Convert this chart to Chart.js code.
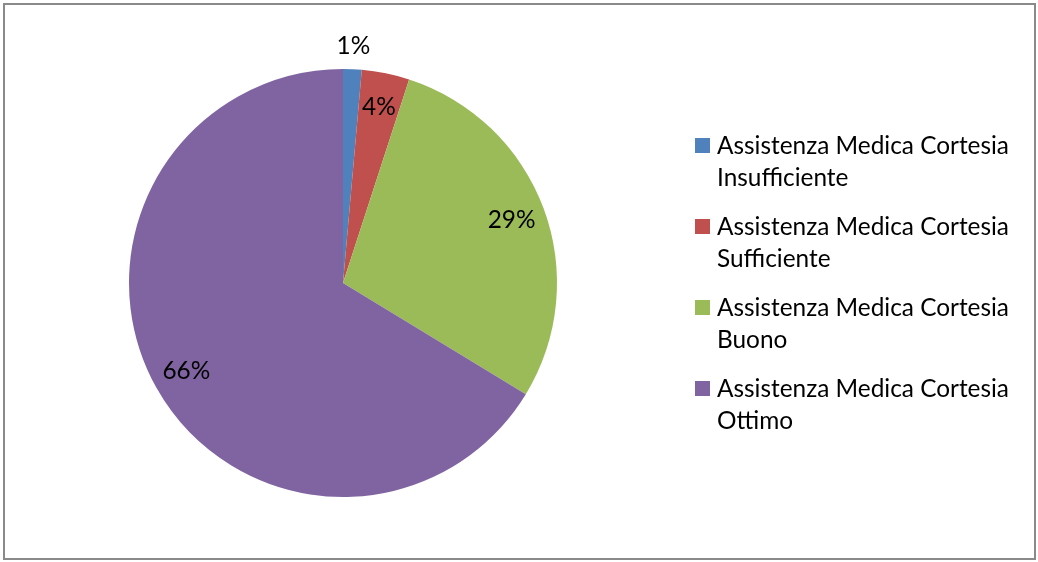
<!DOCTYPE html>
<html>
<head>
<meta charset="utf-8">
<script src="https://cdn.jsdelivr.net/npm/chart.js@4"></script>
<style>
  html, body { margin: 0; padding: 0; background: #fff; }
  #wrap { width: 1038px; height: 562px; }
</style>
</head>
<body>
<div id="wrap"><canvas id="myChart" width="1038" height="562"></canvas></div>
<script>
// values (percent of answers)
const categories = [
    "Assistenza Medica Cortesia Insufficiente",
    "Assistenza Medica Cortesia Sufficiente",
    "Assistenza Medica Cortesia Buono",
    "Assistenza Medica Cortesia Ottimo"
];
const values = [1.4, 3.6, 28.7, 66.3];
const sliceColors = ["#4F81BD", "#C0504D", "#9BBB59", "#8064A2"];

const FONT = "Lato, 'Open Sans', 'Liberation Sans', sans-serif";

function wrapText(ctx, text, maxWidth) {
    const words = text.split(' ');
    const lines = [];
    let line = '';
    words.forEach(w => {
        const test = line ? line + ' ' + w : w;
        if (ctx.measureText(test).width > maxWidth && line) {
            lines.push(line);
            line = w;
        } else {
            line = test;
        }
    });
    if (line) lines.push(line);
    return lines;
}

// frame, percentage labels and the wrapped legend on the right
const decorations = {
    id: 'decorations',
    afterDraw(chart) {
        const ctx = chart.ctx;
        ctx.save();

        // outer frame
        ctx.strokeStyle = '#8a8a8a';
        ctx.lineWidth = 2;
        ctx.strokeRect(4, 4, 1031, 555);

        // font size picked so the legend line has the same width as in the picture
        ctx.font = '20px ' + FONT;
        const w = ctx.measureText('Assistenza Medica Cortesia').width;
        const size = (20 * 292 / w).toFixed(2);
        ctx.font = size + 'px ' + FONT;

        // percentage labels
        const meta = chart.getDatasetMeta(0);
        const total = values.reduce((a, b) => a + b, 0);
        ctx.fillStyle = '#000';
        ctx.textAlign = 'center';
        ctx.textBaseline = 'middle';
        meta.data.forEach((arc, i) => {
            const p = arc.getProps(['x', 'y', 'startAngle', 'endAngle', 'outerRadius'], true);
            const mid = (p.startAngle + p.endAngle) / 2;
            const pct = values[i] / total * 100;
            const r = pct < 2 ? p.outerRadius + 23 : p.outerRadius * 0.84;
            const lx = p.x + Math.cos(mid) * r;
            const ly = p.y + Math.sin(mid) * r;
            ctx.fillText(Math.round(pct) + '%', lx, ly);
        });

        // legend
        ctx.textAlign = 'left';
        let y = 145;
        categories.forEach((label, i) => {
            ctx.fillStyle = sliceColors[i];
            ctx.fillRect(695, y - 7, 15, 15);
            ctx.fillStyle = '#000';
            const lines = wrapText(ctx, label, 305);
            lines.forEach((ln, j) => {
                ctx.fillText(ln, 717, y + j * 32 + 1);
            });
            y += 81;
        });

        ctx.restore();
    }
};

new Chart("myChart", {
    type: "pie",
    data: {
        labels: categories,
        datasets: [{
            data: values,
            backgroundColor: sliceColors,
            borderWidth: 0
        }]
    },
    options: {
        responsive: false,
        animation: false,
        layout: {
            padding: { top: 69, bottom: 65, left: 129, right: 481 }
        },
        plugins: {
            legend: { display: false },
            tooltip: { enabled: false }
        }
    },
    plugins: [decorations]
});
</script>
</body>
</html>
